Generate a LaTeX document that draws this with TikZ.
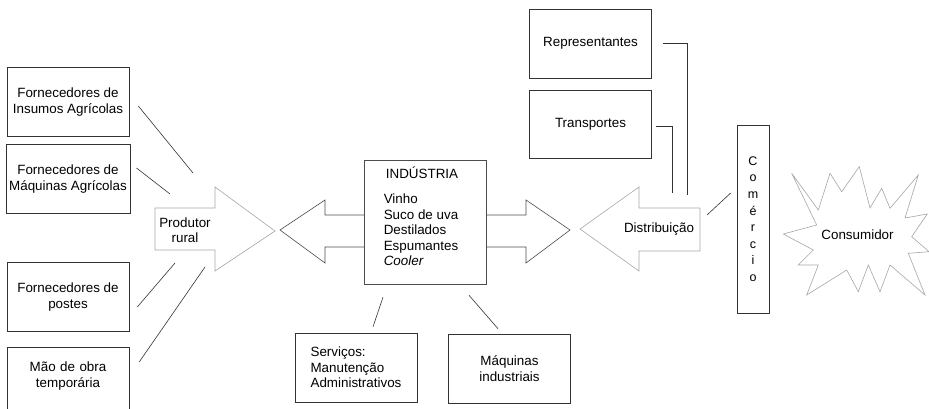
\documentclass[tikz,border=0pt]{standalone}
\usepackage{fontspec}
\setmainfont{Liberation Sans}
\usetikzlibrary{calc}

\begin{document}
\begin{tikzpicture}[x=1pt, y=-1pt,
	font=\fontsize{13.4}{15.5}\selectfont,
	box/.style={draw=black!80, line width=0.6pt, minimum width=122pt, minimum height=69pt, align=center},
	link/.style={draw=black!80, line width=0.6pt},
	pale/.style={draw=black!35, line width=0.6pt},
	dark/.style={draw=black!70, line width=0.6pt}]

	% frame of the picture
	\clip (0,0) rectangle (929,409);

	% suppliers of the rural producer
	\node [box] (insumos) at (68,102) {Fornecedores de\\Insumos Agrícolas};
	\node [box] (maqagricolas) at (68,179) {Fornecedores de\\Máquinas Agrícolas};
	\node [box] (postes) at (68,297) {Fornecedores de\\postes};
	\draw [link] (7,347) rectangle (129,420);
	\node [text width=122pt, inner xsep=0pt, align=center] (maodeobra) at (68,376) {Mão de obra\\temporária};

	% rural producer arrow
	\draw [pale] (155,208) -- (215,208) -- (215,187) -- (275,231) -- (215,271) -- (215,250) -- (155,250) -- cycle;
	\node [align=center] (produtor) at (185,230) {Produtor\\rural};

	% links to the producer
	\draw [link] ($(insumos.east)+(9,4)$) -- ($(produtor)+(8,-57)$);
	\draw [link] ($(maqagricolas.east)+(6,-11)$) -- ($(produtor)+(-15,-36)$);
	\draw [link] ($(postes.east)+(8,10)$) -- ($(produtor)+(-10,33)$);
	\draw [link] ($(maodeobra.east)+(10,-14)$) -- ($(produtor)+(20,37)$);

	% industry with its double arrow
	\draw [dark] (364,215) -- (325,215) -- (325,200) -- (280,230) -- (325,263) -- (325,247) -- (364,247);
	\draw [dark] (486,215) -- (526,215) -- (526,200) -- (570,230) -- (526,263) -- (526,247) -- (486,247);
	\node [box, draw=black!70, minimum height=124pt] (industria) at (425,222) {};
	\node (industriaTitulo) at (422,173) {INDÚSTRIA};
	\node [align=left] (produtos) at (421,230) {Vinho\\Suco de uva\\Destilados\\Espumantes\\\textit{Cooler}};

	% services and machines below the industry
	\node [box, align=left] (servicos) at (356,367.5) {Serviços:\\Manutenção\\Administrativos};
	\node [box] (maqindustriais) at (509.5,368.5) {Máquinas\\industriais};
	\draw [link] ($(industria.south)+(-42,13)$) -- ($(servicos.north)+(17,-6)$);
	\draw [link] ($(industria.south)+(44,11)$) -- ($(maqindustriais.north)+(-11.5,-5)$);

	% distribution
	\node [box] (representantes) at (590.5,43.5) {Representantes};
	\node [box, minimum height=68pt] (transportes) at (590.5,124) {Transportes};
	\draw [pale] (700,208) -- (639,208) -- (639,187) -- (580,229) -- (639,271) -- (639,251) -- (700,251) -- cycle;
	\node (distribuicao) at (659,229) {Distribuição};
	\draw [link] ($(representantes.east)+(11,0)$) -| ($(distribuicao)+(28,-34)$);
	\draw [link] ($(transportes.east)+(4,2)$) -| ($(distribuicao)+(13,-36)$);

	% trade
	\node [box, minimum width=32pt, minimum height=188pt, font=\fontsize{12.5}{16.6}\selectfont] (comercio) at (753,219) {C\\o\\m\\é\\r\\c\\i\\o};
	\draw [link] ($(distribuicao)+(48,-14)$) -- ($(comercio.west)+(-6,-26)$);

	% consumer burst
	\draw [pale] (791.7,173.3) -- (818.3,210) -- (830,173.3) -- (841.7,191.7) -- (859.3,166.7)
		-- (870,208) -- (881.7,188.3) -- (890,208.3) -- (918.3,175) -- (905,218) -- (927.3,214)
		-- (911.7,236.7) -- (929,251.7) -- (908.3,253.3) -- (925,295) -- (890,265) -- (880,291.7)
		-- (868.3,265) -- (858.3,291.7) -- (846.7,270) -- (806.7,295) -- (818.3,265) -- (798.3,265)
		-- (813.3,250) -- (783.3,234) -- (816.7,225) -- cycle;
	\node (consumidor) at (857.5,235) {Consumidor};

\end{tikzpicture}
\end{document}
